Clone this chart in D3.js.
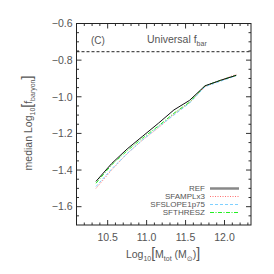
<!DOCTYPE html>
<html>
<head>
<meta charset="utf-8">
<script src="https://cdn.jsdelivr.net/npm/d3@7"></script>
<style>
  body { margin: 0; background: #fff; }
  svg text { font-family: "Liberation Sans", "DejaVu Sans", sans-serif; fill: #555; }
</style>
</head>
<body>
<div id="chart"></div>
<script>
// median log10 f_baryon vs log10 M_tot, panel (c)
var massBins = [10.35, 10.55, 10.75, 10.95, 11.15, 11.35, 11.55, 11.75, 11.95, 12.15];
var refVals = [-1.462, -1.365, -1.285, -1.215, -1.145, -1.072, -1.020, -0.940, -0.910, -0.883];
var amplVals = [-1.500, -1.400, -1.310, -1.235, -1.170, -1.095, -1.032, -0.945, -0.910, -0.878];
var slopeVals = [-1.490, -1.395, -1.310, -1.235, -1.165, -1.100, -1.035, -0.945, -0.915, -0.885];
var threshVals = [-1.472, -1.372, -1.295, -1.225, -1.160, -1.090, -1.030, -0.940, -0.910, -0.883];
var seriesNames = ['REF', 'SFAMPLx3', 'SFSLOPE1p75', 'SFTHRESZ'];
var xTicks = [10.5, 11.0, 11.5, 12.0];
var yTicks = [-0.6, -0.8, -1.0, -1.2, -1.4, -1.6];
var universalFbar = -0.754;

var width = 274, height = 274;
var margin = { left: 76.5, right: 23, top: 23.5, bottom: 49 };

var svg = d3.select('#chart').append('svg')
    .attr('width', width)
    .attr('height', height);

var x = d3.scaleLinear().domain([10.1, 12.34]).range([margin.left, width - margin.right]);
var y = d3.scaleLinear().domain([-1.7, -0.6]).range([height - margin.bottom, margin.top]);

var styles = [
    { color: '#111', dash: null, legendColor: '#888', legendWidth: 2.5 },
    { color: '#ff6f6f', dash: '1,1.5', legendColor: '#ff6f6f', legendWidth: 1 },
    { color: '#7fd0ff', dash: '3,2', legendColor: '#7fd0ff', legendWidth: 1 },
    { color: '#22ee22', dash: '4,1.5,1,1.5', legendColor: '#22ee22', legendWidth: 1.2 }
];
var allSeries = [refVals, amplVals, slopeVals, threshVals];

// tick marks on all four sides, pointing inward
var frame = svg.append('g');
var x0 = x.range()[0], x1 = x.range()[1], y0 = y.range()[1], y1 = y.range()[0];

var xMinor = d3.range(10.2, 12.34, 0.1);
xMinor.forEach(function (v) {
    var major = Math.abs(v * 2 - Math.round(v * 2)) < 1e-6;
    var len = major ? 5 : 2.5;
    frame.append('line').attr('x1', x(v)).attr('x2', x(v)).attr('y1', y1).attr('y2', y1 - len)
        .attr('stroke', '#333').attr('stroke-width', 1);
    frame.append('line').attr('x1', x(v)).attr('x2', x(v)).attr('y1', y0).attr('y2', y0 + len)
        .attr('stroke', '#333').attr('stroke-width', 1);
});
var yMinor = d3.range(-1.65, -0.6, 0.05);
yMinor.forEach(function (v) {
    var major = Math.abs(v * 5 - Math.round(v * 5)) < 1e-6;
    var len = major ? 5 : 2.5;
    frame.append('line').attr('x1', x0).attr('x2', x0 + len).attr('y1', y(v)).attr('y2', y(v))
        .attr('stroke', '#333').attr('stroke-width', 1);
    frame.append('line').attr('x1', x1).attr('x2', x1 - len).attr('y1', y(v)).attr('y2', y(v))
        .attr('stroke', '#333').attr('stroke-width', 1);
});

frame.append('rect')
    .attr('x', x0).attr('y', y0)
    .attr('width', x1 - x0).attr('height', y1 - y0)
    .attr('fill', 'none').attr('stroke', '#222').attr('stroke-width', 1);

// tick labels
svg.selectAll('.xlab').data(xTicks).enter().append('text')
    .attr('x', function (d) { return x(d); })
    .attr('y', y1 + 16)
    .attr('text-anchor', 'middle')
    .style('font-size', '10.5px')
    .text(function (d) { return d3.format('.1f')(d); });

svg.selectAll('.ylab').data(yTicks).enter().append('text')
    .attr('x', x0 - 4)
    .attr('y', function (d) { return y(d) + 3.8; })
    .attr('text-anchor', 'end')
    .style('font-size', '10.5px')
    .text(function (d) { return d3.format('.1f')(d).replace('-', '\u2212'); });

// axis titles
var xt = svg.append('text')
    .attr('x', 163).attr('y', 258)
    .attr('text-anchor', 'middle')
    .style('font-size', '10.5px');
xt.append('tspan').text('Log');
xt.append('tspan').attr('dy', 2.5).style('font-size', '7px').text('10');
xt.append('tspan').attr('dy', -2.5).style('font-size', '14px').text('[');
xt.append('tspan').text('M');
xt.append('tspan').attr('dy', 2.5).style('font-size', '7px').text('tot');
xt.append('tspan').attr('dy', -2.5).text(' (M');
xt.append('tspan').attr('dy', 2.5).style('font-size', '7px').text('\u2299');
xt.append('tspan').attr('dy', -2.5).text(')');
xt.append('tspan').style('font-size', '14px').text(']');

var yt = svg.append('text')
    .attr('transform', 'translate(32,' + 123 + ') rotate(-90)')
    .attr('text-anchor', 'middle')
    .style('font-size', '10.5px');
yt.append('tspan').text('median  Log');
yt.append('tspan').attr('dy', 2.5).style('font-size', '7px').text('10');
yt.append('tspan').attr('dy', -2.5).style('font-size', '14px').text('[');
yt.append('tspan').text('f');
yt.append('tspan').attr('dy', 2.5).style('font-size', '7px').text('baryon');
yt.append('tspan').attr('dy', -2.5).style('font-size', '14px').text(']');

// universal baryon fraction
svg.append('line')
    .attr('x1', x0).attr('x2', x1)
    .attr('y1', y(universalFbar)).attr('y2', y(universalFbar))
    .attr('stroke', '#222').attr('stroke-width', 1)
    .attr('stroke-dasharray', '3,2');

svg.append('text')
    .attr('x', 91).attr('y', 44)
    .style('font-size', '10px')
    .text('(C)');

var ut = svg.append('text')
    .attr('x', 147).attr('y', 43)
    .style('font-size', '10.5px');
ut.append('tspan').text('Universal  f');
ut.append('tspan').attr('dy', 2.5).style('font-size', '7px').text('bar');

// the curves
var line = d3.line()
    .x(function (d, i) { return x(massBins[i]); })
    .y(function (d) { return y(d); });

[1, 2, 3, 0].forEach(function (k) {
    svg.append('path')
        .datum(allSeries[k])
        .attr('d', line)
        .attr('fill', 'none')
        .attr('stroke', styles[k].color)
        .attr('stroke-width', 1)
        .attr('stroke-dasharray', styles[k].dash);
});

// legend
var leg = svg.append('g');
seriesNames.forEach(function (name, i) {
    var ly = 188.5 + i * 8;
    leg.append('text')
        .attr('x', 205).attr('y', ly + 2.8)
        .attr('text-anchor', 'end')
        .style('font-size', '8px')
        .text(name);
    leg.append('line')
        .attr('x1', 210).attr('x2', 239)
        .attr('y1', ly).attr('y2', ly)
        .attr('stroke', styles[i].legendColor)
        .attr('stroke-width', styles[i].legendWidth)
        .attr('stroke-dasharray', styles[i].dash);
});
</script>
</body>
</html>
